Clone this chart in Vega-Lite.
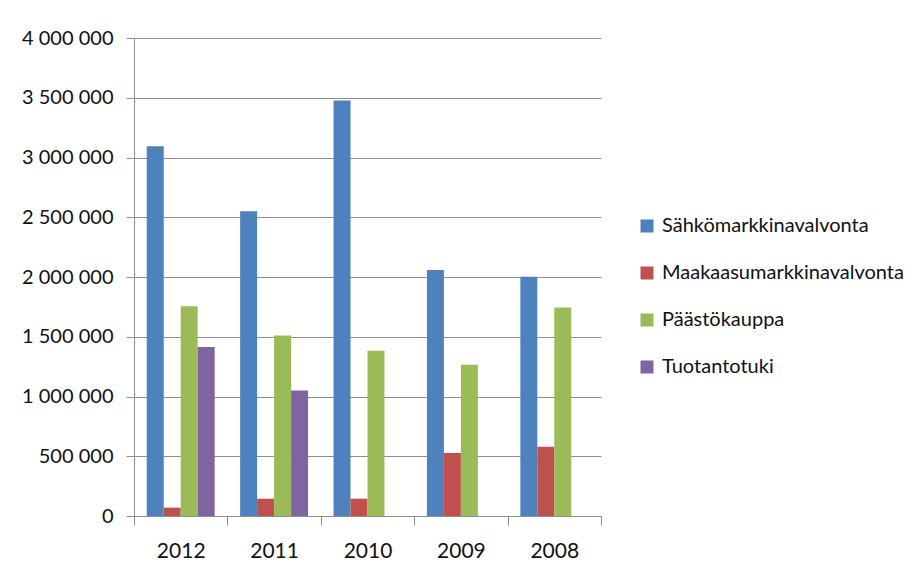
{
  "$schema": "https://vega.github.io/schema/vega-lite/v6.json",
  "autosize": "none",
  "width": 467,
  "height": 478,
  "padding": {"left": 134, "top": 38, "right": 320, "bottom": 62},
  "background": "white",
  "data": {
    "values": [
      {"year": "2012", "series": "Sähkömarkkinavalvonta", "value": 3095000},
      {"year": "2012", "series": "Maakaasumarkkinavalvonta", "value": 70000},
      {"year": "2012", "series": "Päästökauppa", "value": 1755000},
      {"year": "2012", "series": "Tuotantotuki", "value": 1415000},
      {"year": "2011", "series": "Sähkömarkkinavalvonta", "value": 2550000},
      {"year": "2011", "series": "Maakaasumarkkinavalvonta", "value": 145000},
      {"year": "2011", "series": "Päästökauppa", "value": 1510000},
      {"year": "2011", "series": "Tuotantotuki", "value": 1050000},
      {"year": "2010", "series": "Sähkömarkkinavalvonta", "value": 3478000},
      {"year": "2010", "series": "Maakaasumarkkinavalvonta", "value": 145000},
      {"year": "2010", "series": "Päästökauppa", "value": 1382000},
      {"year": "2009", "series": "Sähkömarkkinavalvonta", "value": 2058000},
      {"year": "2009", "series": "Maakaasumarkkinavalvonta", "value": 527000},
      {"year": "2009", "series": "Päästökauppa", "value": 1265000},
      {"year": "2008", "series": "Sähkömarkkinavalvonta", "value": 2003000},
      {"year": "2008", "series": "Maakaasumarkkinavalvonta", "value": 580000},
      {"year": "2008", "series": "Päästökauppa", "value": 1744000}
    ]
  },
  "mark": {"type": "bar"},
  "encoding": {
    "x": {
      "field": "year",
      "type": "nominal",
      "sort": ["2012", "2011", "2010", "2009", "2008"],
      "scale": {"paddingInner": 0, "paddingOuter": 0},
      "axis": {
        "title": null,
        "labelAngle": 0,
        "tickBand": "extent",
        "tickSize": 9,
        "tickColor": "#8f8f8f",
        "domainColor": "#8f8f8f",
        "labelFont": "Lato",
        "labelFontSize": 21,
        "labelColor": "#111111",
        "labelPadding": 15,
        "grid": false
      }
    },
    "xOffset": {
      "field": "series",
      "type": "nominal",
      "sort": ["Sähkömarkkinavalvonta", "Maakaasumarkkinavalvonta", "Päästökauppa", "Tuotantotuki"],
      "scale": {"paddingInner": 0, "paddingOuter": 0.75}
    },
    "y": {
      "field": "value",
      "type": "quantitative",
      "scale": {"domain": [0, 4000000], "nice": false},
      "axis": {
        "title": null,
        "values": [0, 500000, 1000000, 1500000, 2000000, 2500000, 3000000, 3500000, 4000000],
        "labelExpr": "replace(format(datum.value, ','), regexp(',', 'g'), ' ')",
        "tickSize": 8,
        "tickColor": "#8f8f8f",
        "domainColor": "#8f8f8f",
        "gridColor": "#8f8f8f",
        "gridWidth": 1.2,
        "labelFont": "Lato",
        "labelFontSize": 20,
        "labelColor": "#111111",
        "labelPadding": 13
      }
    },
    "color": {
      "field": "series",
      "type": "nominal",
      "sort": ["Sähkömarkkinavalvonta", "Maakaasumarkkinavalvonta", "Päästökauppa", "Tuotantotuki"],
      "scale": {
        "domain": ["Sähkömarkkinavalvonta", "Maakaasumarkkinavalvonta", "Päästökauppa", "Tuotantotuki"],
        "range": ["#4F81BD", "#C0504D", "#9BBB59", "#8064A2"]
      },
      "legend": {
        "title": null,
        "orient": "none",
        "legendX": 503,
        "legendY": 178,
        "symbolType": "square",
        "symbolSize": 169,
        "symbolStrokeWidth": 0,
        "labelFont": "Lato",
        "labelFontSize": 20,
        "labelColor": "#111111",
        "labelOffset": 5,
        "labelLimit": 400,
        "rowPadding": 27
      }
    }
  },
  "config": {
    "view": {"stroke": null}
  }
}
